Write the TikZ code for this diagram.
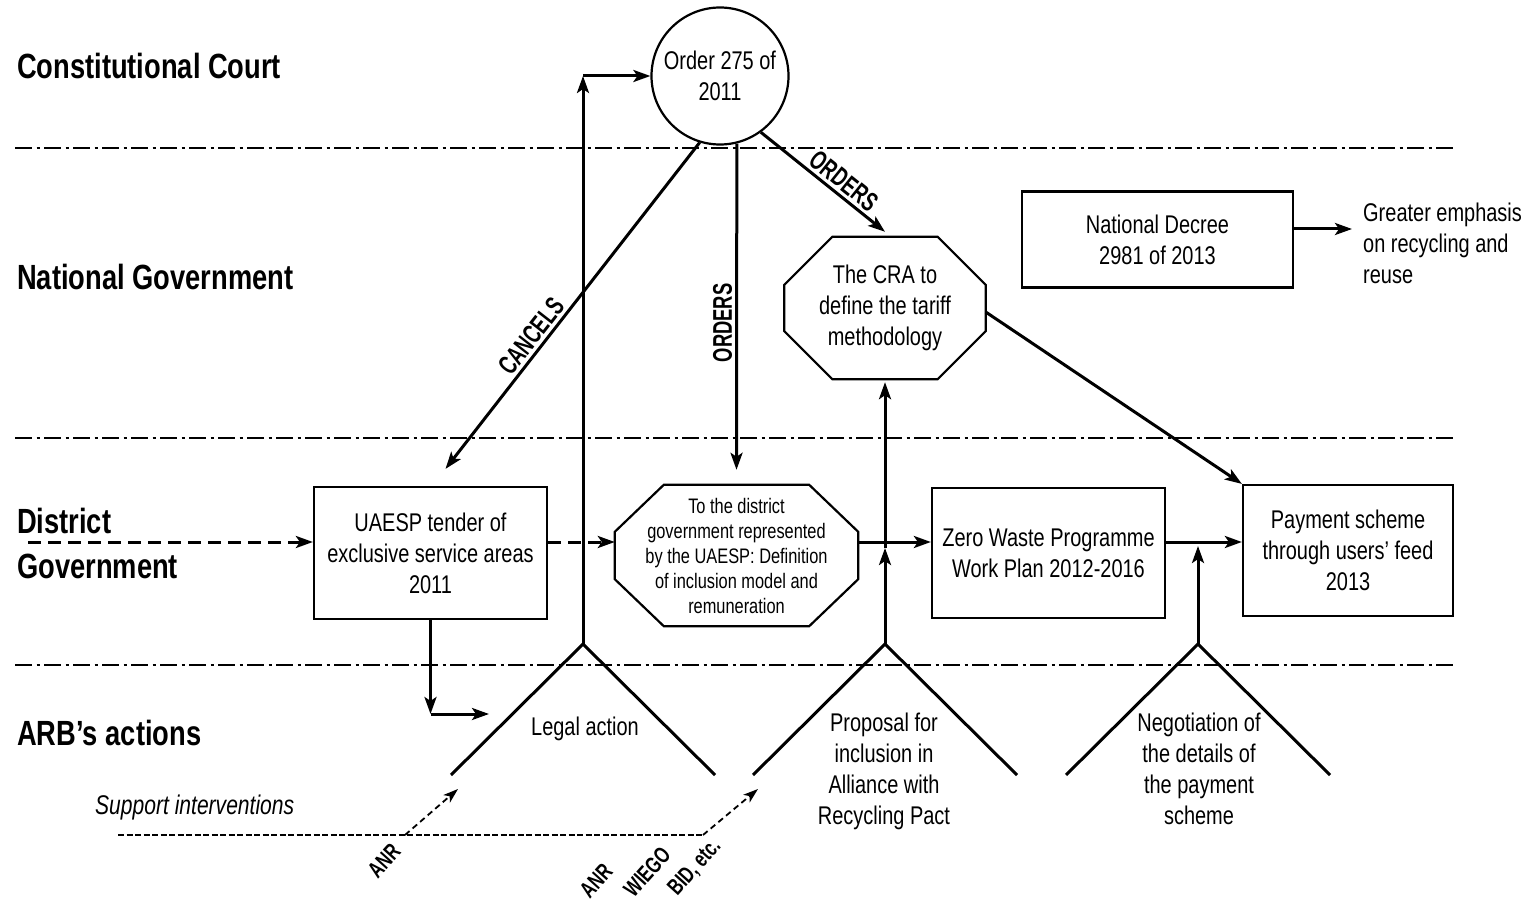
\documentclass[tikz,border=0pt]{standalone}
\usepackage{fontspec}
\setmainfont{Liberation Sans}[FakeStretch=0.78]
\newfontfamily\condfam{Liberation Sans}[FakeStretch=0.68]
\newfontfamily\scondfam{Liberation Sans}[FakeStretch=0.72]
\usetikzlibrary{arrows.meta}
\newcommand\bodyfnt{\fontsize{25.6}{31}\selectfont}
\newcommand\smallfnt{\fontsize{21}{25}\selectfont}
\newcommand\secfnt{\fontsize{35}{45}\selectfont\bfseries}
\newcommand\lblfnt{\condfam\fontsize{27}{30}\selectfont\bfseries}
\newcommand\slblfnt{\scondfam\fontsize{23}{27}\selectfont\bfseries}
\begin{document}
\begin{tikzpicture}[x=1pt,y=-1pt,
  every node/.style={inner sep=0pt},
  sect/.style={font=\secfnt, anchor=west, align=left},
  box/.style={draw, line width=2.2pt, font=\bodyfnt, align=center},
  oct/.style={line width=2.2pt, line join=miter},
  arr/.style={line width=3pt, -{Stealth[length=17pt,width=12pt,inset=4pt]}},
  darr/.style={arr, dash pattern=on 13pt off 7pt},
  sarr/.style={line width=1.8pt, dash pattern=on 6pt off 4pt, -{Stealth[length=15pt,width=10pt,inset=4pt]}},
  sline/.style={line width=1.8pt, dash pattern=on 6pt off 2.5pt},
  sepline/.style={line width=2.2pt, dash pattern=on 17pt off 4.5pt on 3pt off 4.5pt},
  legs/.style={line width=3pt},
  lbl/.style={font=\lblfnt, inner sep=3pt},
  slbl/.style={font=\slblfnt, rotate=48, anchor=south west},
  txt/.style={font=\bodyfnt, align=center}]
\useasboundingbox (0,0) rectangle (1535,904);
\fill[white] (0,0) rectangle (1535,904);

% separators
\draw[sepline] (15,148) -- (1455,148);
\draw[sepline] (15,438) -- (1455,438);
\draw[sepline] (15,665) -- (1455,665);

% section titles
\node[sect] (s1) at (17,66) {Constitutional Court};
\node[sect] (s2) at (17,277) {National Government};
\node[sect] (s3) at (17,543) {District\\Government};
\node[sect] (s4) at (17,733) {ARB’s actions};

% main nodes
\node[circle, draw, line width=2.2pt, minimum size=137pt, txt] (ord) at (720,76) {Order 275 of\\2011};
\node[box, minimum width=233pt, minimum height=132pt] (uaesp) at (430.5,553) {UAESP tender of\\exclusive service areas\\2011};
\node[minimum width=243pt, minimum height=141pt, font=\smallfnt, align=center] (dist) at (736.5,555.5) {To the district\\government represented\\by the UAESP: Definition\\of inclusion model and\\remuneration};
\node[box, minimum width=233pt, minimum height=130pt] (zero) at (1048.5,553) {Zero Waste Programme\\Work Plan 2012-2016};
\node[box, minimum width=210pt, minimum height=131pt] (pay) at (1348,550.5) {Payment scheme\\through users’ feed\\2013};
\node[minimum width=201pt, minimum height=142pt, txt] (cra) at (885,308) {The CRA to\\define the tariff\\methodology};
\node[box, minimum width=271pt, minimum height=96pt] (dec) at (1157.5,239.5) {National Decree\\2981 of 2013};
\node[txt, align=left, anchor=west] (gr) at (1363,243) {Greater emphasis\\on recycling and\\reuse};

% octagons
\draw[oct] ([xshift=49pt]dist.north west) -- ([xshift=-49pt]dist.north east) -- ([yshift=-47pt]dist.north east) -- ([yshift=47pt]dist.south east) -- ([xshift=-49pt]dist.south east) -- ([xshift=49pt]dist.south west) -- ([yshift=47pt]dist.south west) -- ([yshift=-47pt]dist.north west) -- cycle;
\draw[oct] ([xshift=48pt]cra.north west) -- ([xshift=-48pt]cra.north east) -- ([yshift=-48pt]cra.north east) -- ([yshift=48pt]cra.south east) -- ([xshift=-48pt]cra.south east) -- ([xshift=48pt]cra.south west) -- ([yshift=48pt]cra.south west) -- ([yshift=-48pt]cra.north west) -- cycle;

% ARB action shapes
\coordinate (la) at (583,644);
\coordinate (pa) at (885,644);
\coordinate (na) at (1198,644);
\draw[legs] (451,775) -- (la) -- (715,775);
\draw[legs] (753,775) -- (pa) -- (1017,775);
\draw[legs] (1066,775) -- (na) -- (1330,775);
\node[txt] (lat) at (585,729) {Legal action};
\node[txt, anchor=north] (pat) at (884,713) {Proposal for\\inclusion in\\Alliance with\\Recycling Pact};
\node[txt, anchor=north] (nat) at (1199,713) {Negotiation of\\the details of\\the payment\\scheme};

% level of horizontal flow
\coordinate (L) at (0,542);

% connectors
\draw[arr] (ord.253) -- node[lbl, pos=0.62, sloped, above] {CANCELS} ([xshift=15pt,yshift=17pt]uaesp.north);
\draw[arr] (ord.284) -- node[lbl, pos=0.55, sloped, above] {ORDERS} ([yshift=15pt]dist.north);
\draw[arr] (ord.306) -- node[lbl, pos=0.6, sloped, above] {ORDERS} ([yshift=5pt]cra.north);
\draw[arr] ([yshift=-4pt]cra.east) -- (pay.north west);
\draw[arr] (dec.east |- 0,229) -- (1352,229) coordinate (grarr);

\coordinate (dstart) at (28,542);
\draw[darr] (dstart) -- (uaesp.west |- L);
\draw[darr] (uaesp.east |- L) -- (dist.west |- L);
\draw[arr] (dist.east |- L) -- (zero.west |- L);
\draw[arr] (zero.east |- L) -- (pay.west |- L);

\coordinate (c1) at (uaesp.south |- 0,714);
\coordinate (c1e) at (489,714);
\draw[arr] (uaesp.south) -- (c1);
\draw[arr] (c1) -- (c1e);

\coordinate (c2) at (la |- ord.west);
\draw[arr] (la) -- (c2);
\draw[arr] (c2) -- (ord.west);

\coordinate (m1) at (pa |- 0,548);
\draw[arr] (pa) -- (m1);
\draw[arr, shorten >=3pt] (m1) -- (cra.south);
\draw[arr] (na) -- (na |- 0,546);

% support interventions
\node[font=\fontsize{27}{31}\selectfont\itshape, anchor=west] (sup) at (95,808) {Support interventions};
\coordinate (s0) at (118,835);
\coordinate (b1) at (405,835);
\coordinate (b2) at (703,835);
\draw[sline] (s0) -- (b2);
\draw[sarr] (b1) -- (458,789);
\draw[sarr] (b2) -- (758,789);
\node[slbl] (anr1) at (378,880) {ANR};
\node[slbl] (anr2) at (590,900) {ANR};
\node[slbl] (wiego) at (634,899) {WIEGO};
\node[slbl] (bid) at (680,899) {BID, etc.};
\end{tikzpicture}
\end{document}
